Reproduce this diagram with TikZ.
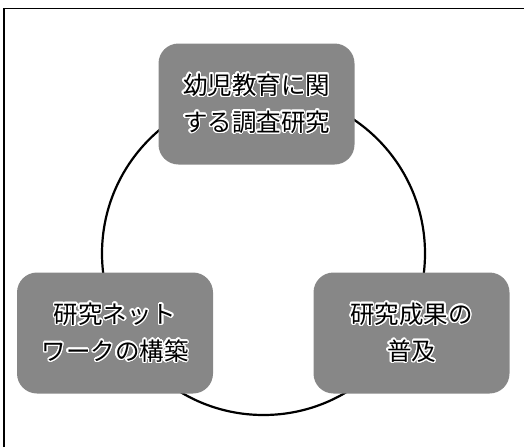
\documentclass[tikz,border=0pt]{standalone}
\usepackage{fontspec}
\newfontfamily\cjk{Noto Sans CJK JP}
\usepackage[copies]{contour}
\contourlength{1.3pt}
\contournumber{24}
\begin{document}
\begin{tikzpicture}[x=1pt,y=-1pt,
  boxnode/.style={draw=none,fill=black!47,rounded corners=20pt,minimum width=196pt,minimum height=121pt,
    align=center,font=\cjk\fontsize{24.5}{37}\selectfont,text=black,inner sep=0pt},
  ring/.style={line width=2.2pt,black}]
\useasboundingbox (0,0) rectangle (524,447);
\draw[line width=1.6pt] (4,447) -- (4,8.5) -- (524,8.5);
\draw[ring] (263.5,253.5) circle (161.5);
\node[boxnode] (top) at (256.5,104) {\contour{white}{幼児教育に関}\\\contour{white}{する調査研究}};
\node[boxnode] (left) at (115,333) {\contour{white}{研究ネット}\\\contour{white}{ワークの構築}};
\node[boxnode] (right) at (411.5,333) {\contour{white}{研究成果の}\\\contour{white}{普及}};
\end{tikzpicture}
\end{document}
